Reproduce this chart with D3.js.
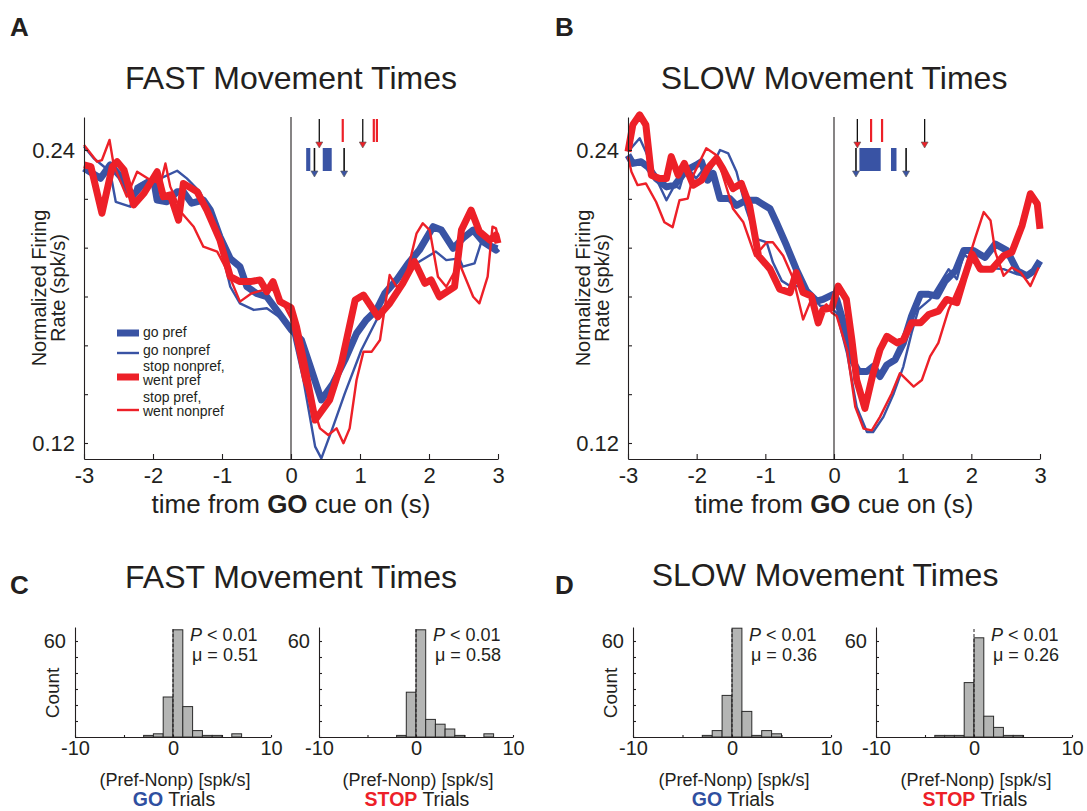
<!DOCTYPE html>
<html><head><meta charset="utf-8">
<script src="https://cdn.jsdelivr.net/npm/d3@7"></script>
<style>body{margin:0;background:#fff}svg{display:block;font-family:"Liberation Sans",Arial,Helvetica,sans-serif}</style>
</head><body><svg id="c" width="1087" height="811"></svg>
<script>
// ---------------- DATA ----------------
// time courses: [time from GO (s), normalized firing rate]
const A_goPref = [[-3.00,0.2325],[-2.76,0.2284],[-2.62,0.2339],[-2.47,0.2291],[-2.30,0.2209],[-2.18,0.2250],[-1.99,0.2277],[-1.94,0.2195],[-1.80,0.2188],[-1.65,0.2229],[-1.56,0.2229],[-1.44,0.2182],[-1.27,0.2195],[-1.17,0.2154],[-1.03,0.2045],[-0.88,0.1955],[-0.74,0.1922],[-0.64,0.1840],[-0.50,0.1813],[-0.35,0.1799],[-0.21,0.1745],[0.00,0.1665],[0.15,0.1622],[0.28,0.1513],[0.44,0.1376],[0.61,0.1444],[0.78,0.1540],[0.95,0.1649],[1.09,0.1704],[1.24,0.1745],[1.36,0.1813],[1.53,0.1868],[1.70,0.1936],[1.86,0.1990],[2.06,0.2086],[2.18,0.2072],[2.35,0.1997],[2.49,0.2038],[2.64,0.2072],[2.78,0.2025],[2.97,0.1990],[3.00,0.1997]];
const A_goNonpref = [[-3.00,0.2414],[-2.86,0.2366],[-2.62,0.2311],[-2.54,0.2188],[-2.33,0.2168],[-2.25,0.2250],[-2.09,0.2277],[-1.89,0.2284],[-1.65,0.2315],[-1.51,0.2284],[-1.32,0.2229],[-1.12,0.2100],[-1.03,0.2018],[-0.88,0.1840],[-0.74,0.1772],[-0.54,0.1745],[-0.35,0.1752],[-0.21,0.1724],[0.00,0.1680],[0.18,0.1458],[0.35,0.1185],[0.44,0.1137],[0.61,0.1267],[0.78,0.1403],[1.02,0.1581],[1.24,0.1704],[1.43,0.1772],[1.62,0.1854],[1.82,0.1936],[2.10,0.1984],[2.25,0.1949],[2.44,0.1956],[2.49,0.1922],[2.66,0.1936],[2.76,0.2025],[2.88,0.2018],[3.00,0.2004]];
const A_stopNonpref = [[-3.00,0.2339],[-2.90,0.2332],[-2.74,0.2141],[-2.59,0.2332],[-2.52,0.2352],[-2.42,0.2318],[-2.28,0.2175],[-2.13,0.2223],[-1.94,0.2311],[-1.85,0.2209],[-1.75,0.2216],[-1.63,0.2113],[-1.56,0.2263],[-1.36,0.2229],[-1.22,0.2154],[-1.03,0.2031],[-0.88,0.1881],[-0.74,0.1861],[-0.59,0.1861],[-0.45,0.1868],[-0.35,0.1820],[-0.26,0.1861],[-0.16,0.1779],[0.00,0.1755],[0.08,0.1676],[0.20,0.1513],[0.35,0.1294],[0.56,0.1376],[0.73,0.1526],[0.93,0.1786],[1.05,0.1806],[1.26,0.1717],[1.43,0.1772],[1.62,0.1854],[1.79,0.1943],[1.94,0.1854],[2.03,0.1868],[2.15,0.1799],[2.37,0.1840],[2.47,0.2072],[2.61,0.2154],[2.73,0.2066],[2.88,0.2031],[2.97,0.2052],[3.00,0.2018]];
const A_stopPref = [[-3.00,0.2420],[-2.81,0.2352],[-2.74,0.2359],[-2.63,0.2441],[-2.57,0.2339],[-2.50,0.2291],[-2.38,0.2209],[-2.23,0.2311],[-2.04,0.2277],[-1.89,0.2263],[-1.82,0.2345],[-1.75,0.2250],[-1.58,0.2141],[-1.41,0.2086],[-1.27,0.2004],[-1.07,0.1984],[-0.93,0.1909],[-0.74,0.1779],[-0.57,0.1813],[-0.40,0.1827],[-0.26,0.1827],[-0.14,0.1786],[0.00,0.1710],[0.18,0.1458],[0.35,0.1322],[0.42,0.1260],[0.54,0.1233],[0.66,0.1260],[0.76,0.1199],[0.85,0.1260],[0.95,0.1458],[1.05,0.1574],[1.17,0.1574],[1.29,0.1622],[1.43,0.1888],[1.53,0.1840],[1.65,0.1861],[1.82,0.2059],[1.91,0.2100],[2.01,0.2072],[2.13,0.1881],[2.25,0.1840],[2.44,0.1936],[2.64,0.1799],[2.73,0.1772],[2.85,0.1881],[2.92,0.2086],[2.97,0.2079],[3.00,0.2045]];

const B_goPref = [[-3.00,0.2379],[-2.93,0.2345],[-2.81,0.2352],[-2.71,0.2331],[-2.59,0.2283],[-2.44,0.2249],[-2.32,0.2256],[-2.15,0.2318],[-2.01,0.2338],[-1.93,0.2352],[-1.84,0.2276],[-1.76,0.2304],[-1.66,0.2201],[-1.52,0.2201],[-1.42,0.2173],[-1.28,0.2194],[-1.13,0.2194],[-0.93,0.2159],[-0.84,0.2104],[-0.69,0.2008],[-0.55,0.1912],[-0.40,0.1823],[-0.25,0.1781],[-0.16,0.1788],[-0.01,0.1809],[0.04,0.1788],[0.14,0.1692],[0.26,0.1541],[0.36,0.1493],[0.48,0.1493],[0.57,0.1513],[0.67,0.1472],[0.77,0.1520],[0.89,0.1541],[1.01,0.1610],[1.13,0.1720],[1.26,0.1809],[1.38,0.1809],[1.50,0.1802],[1.62,0.1864],[1.77,0.1905],[1.89,0.1988],[2.03,0.1988],[2.20,0.1960],[2.35,0.2015],[2.52,0.1988],[2.67,0.1905],[2.81,0.1885],[2.91,0.1905],[3.00,0.1946]];
const B_goNonpref = [[-3.00,0.2393],[-2.83,0.2448],[-2.74,0.2393],[-2.59,0.2283],[-2.44,0.2194],[-2.32,0.2256],[-2.25,0.2242],[-2.15,0.2338],[-2.01,0.2283],[-1.91,0.2318],[-1.81,0.2311],[-1.66,0.2400],[-1.54,0.2386],[-1.42,0.2311],[-1.28,0.2159],[-1.13,0.2036],[-0.98,0.2022],[-0.89,0.1940],[-0.76,0.1864],[-0.64,0.1843],[-0.50,0.1843],[-0.35,0.1816],[-0.20,0.1761],[-0.08,0.1761],[0.04,0.1733],[0.19,0.1568],[0.33,0.1348],[0.48,0.1245],[0.57,0.1245],[0.72,0.1307],[0.87,0.1403],[1.01,0.1513],[1.13,0.1651],[1.23,0.1747],[1.40,0.1788],[1.55,0.1857],[1.67,0.1912],[1.79,0.1871],[1.89,0.1974],[2.03,0.1940],[2.18,0.1919],[2.47,0.1912],[2.67,0.1891],[2.86,0.1885],[3.00,0.1926]];
const B_stopNonpref = [[-3.00,0.2393],[-2.93,0.2503],[-2.83,0.2544],[-2.74,0.2503],[-2.66,0.2297],[-2.54,0.2283],[-2.44,0.2283],[-2.37,0.2373],[-2.27,0.2297],[-2.18,0.2345],[-2.05,0.2256],[-1.93,0.2276],[-1.84,0.2324],[-1.71,0.2366],[-1.62,0.2324],[-1.47,0.2242],[-1.35,0.2263],[-1.23,0.2173],[-1.10,0.1967],[-0.93,0.1912],[-0.79,0.1830],[-0.64,0.1816],[-0.55,0.1898],[-0.45,0.1816],[-0.33,0.1802],[-0.23,0.1692],[-0.16,0.1747],[-0.03,0.1754],[0.06,0.1843],[0.18,0.1788],[0.26,0.1623],[0.33,0.1458],[0.45,0.1342],[0.57,0.1486],[0.67,0.1582],[0.77,0.1637],[0.92,0.1610],[1.01,0.1623],[1.13,0.1692],[1.26,0.1692],[1.38,0.1726],[1.52,0.1740],[1.64,0.1788],[1.79,0.1775],[1.89,0.1871],[2.01,0.1974],[2.13,0.1912],[2.30,0.1912],[2.47,0.1967],[2.59,0.1981],[2.74,0.2091],[2.86,0.2221],[2.96,0.2180],[3.00,0.2077]];
const B_stopPref = [[-3.00,0.2373],[-2.95,0.2311],[-2.86,0.2256],[-2.74,0.2263],[-2.59,0.2187],[-2.47,0.2104],[-2.35,0.2084],[-2.25,0.2194],[-2.13,0.2201],[-2.05,0.2297],[-1.98,0.2338],[-1.86,0.2407],[-1.71,0.2379],[-1.59,0.2269],[-1.47,0.2159],[-1.32,0.2104],[-1.15,0.1967],[-0.98,0.2022],[-0.89,0.2022],[-0.74,0.1967],[-0.59,0.1871],[-0.45,0.1706],[-0.35,0.1775],[-0.23,0.1733],[-0.11,0.1768],[-0.03,0.1733],[0.04,0.1720],[0.19,0.1582],[0.31,0.1348],[0.43,0.1259],[0.55,0.1252],[0.67,0.1307],[0.84,0.1403],[0.96,0.1486],[1.16,0.1431],[1.28,0.1458],[1.40,0.1555],[1.52,0.1610],[1.67,0.1747],[1.89,0.1891],[2.06,0.2043],[2.18,0.2146],[2.28,0.2111],[2.35,0.1981],[2.47,0.1885],[2.59,0.1919],[2.72,0.1898],[2.86,0.1843],[2.98,0.1919]];

// event markers above the traces (s from GO)
const A_stopArrows = [0.41, 1.04];
const A_stopBars = [0.75, 1.20, 1.245];
const A_goArrows = [0.34, 0.77];
const A_goBoxes = [[0.22, 0.28], [0.46, 0.59]];
const B_stopArrows = [0.34, 1.32];
const B_stopBars = [0.54, 0.70];
const B_goArrows = [0.32, 1.05];
const B_goBoxes = [[0.37, 0.68], [0.83, 0.91]];

// axes ticks
const tcXTicks = [-3, -2, -1, 0, 1, 2, 3];
const tcYTicks = [0.12, 0.14, 0.16, 0.18, 0.20, 0.22, 0.24];
const tcYLabeled = [0.12, 0.24];
const legendLabels = [["go pref"], ["go nonpref"], ["stop nonpref,", "went pref"], ["stop pref,", "went nonpref"]];

// histograms: first bin start (bins of width 1 spk/s) and counts
const C_go_start = -3,   C_go_counts   = [1, 2, 25, 67, 19, 4, 1, 1, 0, 2];
const C_stop_start = -2, C_stop_counts = [1, 28, 67, 11, 8, 5, 1, 0, 0, 2];
const D_go_start = -3,   D_go_counts   = [1, 4, 26, 68, 16, 1, 4, 2];
const D_stop_start = -4, D_stop_counts = [1, 1, 1, 34, 62, 13, 6, 1, 1];
const histMu = ["0.51", "0.58", "0.36", "0.26"];
const histP = "0.01";
const histXTicks = [-10, -5, 0, 5, 10];
const histXLabeled = [-10, 0, 10];
const histYTicks = [0, 10, 20, 30, 40, 50, 60];

// ---------------- DRAWING ----------------
const BLUE = "#3953a4", RED = "#ed2028", INK = "#231f20";
const svg = d3.select("#c");

function styleAxis(g, size) {
  g.select(".domain").attr("stroke", INK).attr("stroke-width", 1.1);
  g.selectAll(".tick line").attr("stroke", INK).attr("stroke-width", 1.1);
  g.selectAll(".tick text").attr("font-size", size).attr("fill", INK).attr("font-family", null);
}

function tcPanel(o) {
  const x = d3.scaleLinear().domain([-3, 3]).range([o.x0, o.x1]);
  const y = d3.scaleLinear().domain([0.12, 0.24]).range([443, 150]);
  const yAx = d3.scaleLinear().domain([y.invert(459), y.invert(117)]).range([459, 117]);
  const g = svg.append("g");
  const line = d3.line().x(d => x(d[0])).y(d => y(d[1]));
  const series = [
    {d: o.goPref, c: BLUE, w: 7},
    {d: o.goNonpref, c: BLUE, w: 2.4},
    {d: o.stopNonpref, c: RED, w: 7},
    {d: o.stopPref, c: RED, w: 2.4}
  ];
  series.forEach(s => g.append("path").attr("d", line(s.d)).attr("fill", "none")
    .attr("stroke", s.c).attr("stroke-width", s.w).attr("stroke-linejoin", "round"));

  // zero line
  g.append("line").attr("x1", x(0)).attr("x2", x(0)).attr("y1", 117).attr("y2", 459)
    .attr("stroke", INK).attr("stroke-width", 1.1);

  // axes
  const ya = g.append("g").attr("transform", `translate(${o.x0},0)`)
    .call(d3.axisLeft(yAx).tickValues(tcYTicks).tickSizeInner(-4).tickSizeOuter(0).tickPadding(9)
      .tickFormat(d => tcYLabeled.some(v => Math.abs(v - d) < 1e-9) ? d3.format(".2f")(d) : ""));
  styleAxis(ya, 22);
  const xa = g.append("g").attr("transform", `translate(0,459)`)
    .call(d3.axisBottom(x).tickValues(tcXTicks).tickSizeInner(-5).tickSizeOuter(0).tickPadding(8)
      .tickFormat(d => String(d)));
  styleAxis(xa, 22);

  // markers
  const stemC = "#111";
  o.stopBars.forEach(t => g.append("line").attr("x1", x(t)).attr("x2", x(t)).attr("y1", 119).attr("y2", 142)
    .attr("stroke", RED).attr("stroke-width", 2.2));
  o.stopArrows.forEach(t => {
    g.append("line").attr("x1", x(t)).attr("x2", x(t)).attr("y1", 119).attr("y2", 143).attr("stroke", stemC).attr("stroke-width", 1.3);
    g.append("path").attr("d", `M${x(t)-3.5},142L${x(t)+3.5},142L${x(t)},148Z`).attr("fill", RED).attr("stroke", "#555").attr("stroke-width", 0.6);
  });
  o.goBoxes.forEach(b => g.append("rect").attr("x", x(b[0])).attr("y", 148).attr("width", x(b[1]) - x(b[0])).attr("height", 23)
    .attr("fill", BLUE));
  o.goArrows.forEach(t => {
    g.append("line").attr("x1", x(t)).attr("x2", x(t)).attr("y1", 148).attr("y2", 172).attr("stroke", stemC).attr("stroke-width", 1.6);
    g.append("path").attr("d", `M${x(t)-3.5},171L${x(t)+3.5},171L${x(t)},177Z`).attr("fill", BLUE).attr("stroke", "#555").attr("stroke-width", 0.6);
  });

  // labels
  g.append("text").attr("x", x(0)).attr("y", 89).attr("text-anchor", "middle").attr("font-size", 32).attr("fill", INK).text(o.title);
  const xt = g.append("text").attr("x", x(0)).attr("y", 513).attr("text-anchor", "middle").attr("font-size", 26).attr("fill", INK);
  xt.append("tspan").text("time from ");
  xt.append("tspan").attr("font-weight", "bold").text("GO");
  xt.append("tspan").text(" cue on (s)");
  g.append("text").attr("transform", `translate(${o.x0 - 38},${288}) rotate(-90)`).attr("text-anchor", "middle")
    .attr("font-size", 20).attr("fill", INK).text("Normalized Firing");
  g.append("text").attr("transform", `translate(${o.x0 - 19},${288}) rotate(-90)`).attr("text-anchor", "middle")
    .attr("font-size", 20).attr("fill", INK).text("Rate (spk/s)");

  g.append("text").attr("x", o.letterX).attr("y", 36).attr("font-size", 26).attr("font-weight", "bold").attr("fill", INK).text(o.letter);

  if (o.legend) {
    const ys = [333, 353, 377, 410];
    const tb = [[337], [355], [371, 385], [402, 416]];
    series.forEach((s, i) => {
      g.append("line").attr("x1", 117).attr("x2", 139).attr("y1", ys[i]).attr("y2", ys[i]).attr("stroke", s.c).attr("stroke-width", s.w);
      legendLabels[i].forEach((l, j) => g.append("text").attr("x", 143).attr("y", tb[i][j]).attr("font-size", 14).attr("fill", INK).text(l));
    });
  }
}

tcPanel({x0: 84, x1: 498, goPref: A_goPref, goNonpref: A_goNonpref, stopNonpref: A_stopNonpref, stopPref: A_stopPref,
  stopArrows: A_stopArrows, stopBars: A_stopBars, goArrows: A_goArrows, goBoxes: A_goBoxes,
  title: "FAST Movement Times", letter: "A", letterX: 10, legend: true});
tcPanel({x0: 628, x1: 1040, goPref: B_goPref, goNonpref: B_goNonpref, stopNonpref: B_stopNonpref, stopPref: B_stopPref,
  stopArrows: B_stopArrows, stopBars: B_stopBars, goArrows: B_goArrows, goBoxes: B_goBoxes,
  title: "SLOW Movement Times", letter: "B", letterX: 555, legend: false});

function histPanel(o) {
  const x = d3.scaleLinear().domain([-10, 10]).range([o.x0, o.x1]);
  const y = d3.scaleLinear().domain([0, 60]).range([737, 641]);
  const yAx = d3.scaleLinear().domain([0, y.invert(627)]).range([737, 627]);
  const g = svg.append("g");
  const bins = o.counts.map((c, i) => ({b: o.start + i, c}));
  g.selectAll("rect").data(bins.filter(d => d.c > 0)).join("rect")
    .attr("x", d => x(d.b)).attr("y", d => y(d.c)).attr("width", d => x(d.b + 1) - x(d.b)).attr("height", d => y(0) - y(d.c))
    .attr("fill", "#b4b5b4").attr("stroke", "#2a2a2a").attr("stroke-width", 1);
  g.append("line").attr("x1", x(0)).attr("x2", x(0)).attr("y1", 737).attr("y2", 627)
    .attr("stroke", INK).attr("stroke-width", 1).attr("stroke-dasharray", "3,2");
  const ya = g.append("g").attr("transform", `translate(${o.x0},0)`)
    .call(d3.axisLeft(yAx).tickValues(histYTicks).tickSizeInner(-3).tickSizeOuter(0).tickPadding(9)
      .tickFormat(d => d === 60 ? "60" : ""));
  styleAxis(ya, 20);
  const xa = g.append("g").attr("transform", `translate(0,737)`)
    .call(d3.axisBottom(x).tickValues(histXTicks).tickSizeInner(-2).tickSizeOuter(0).tickPadding(4)
      .tickFormat(d => histXLabeled.includes(d) ? String(d) : ""));
  styleAxis(xa, 20);
  const st = g.append("text").attr("x", x(0) + 17).attr("y", 641).attr("font-size", 18).attr("fill", INK);
  st.append("tspan").attr("font-style", "italic").text("P");
  st.append("tspan").text(" < " + histP);
  g.append("text").attr("x", x(0) + 19).attr("y", 661).attr("font-size", 18).attr("fill", INK).text("\u03bc = " + o.mu);
  g.append("text").attr("x", x(0) + 2).attr("y", 786).attr("text-anchor", "middle").attr("font-size", 18).attr("fill", INK).text("(Pref-Nonp) [spk/s]");
  const tt = g.append("text").attr("x", x(0) + 1).attr("y", 806).attr("text-anchor", "middle").attr("font-size", 19.5).attr("fill", INK);
  tt.append("tspan").attr("font-weight", "bold").attr("fill", o.kind === "GO" ? "#2f4fa0" : RED).text(o.kind);
  tt.append("tspan").text(" Trials");
  if (o.count) {
    g.append("text").attr("transform", `translate(${o.x0 - 16},693) rotate(-90)`).attr("text-anchor", "middle")
      .attr("font-size", 19).attr("fill", INK).text("Count");
  }
}

histPanel({x0: 75, x1: 271, start: C_go_start, counts: C_go_counts, mu: histMu[0], kind: "GO", count: true});
histPanel({x0: 319, x1: 513, start: C_stop_start, counts: C_stop_counts, mu: histMu[1], kind: "STOP", count: false});
histPanel({x0: 633, x1: 831, start: D_go_start, counts: D_go_counts, mu: histMu[2], kind: "GO", count: true});
histPanel({x0: 876, x1: 1072, start: D_stop_start, counts: D_stop_counts, mu: histMu[3], kind: "STOP", count: false});

svg.append("text").attr("x", 291).attr("y", 588).attr("text-anchor", "middle").attr("font-size", 32).attr("fill", INK).text("FAST Movement Times");
svg.append("text").attr("x", 825).attr("y", 586).attr("text-anchor", "middle").attr("font-size", 32).attr("fill", INK).text("SLOW Movement Times");
svg.append("text").attr("x", 10).attr("y", 594).attr("font-size", 26).attr("font-weight", "bold").attr("fill", INK).text("C");
svg.append("text").attr("x", 555).attr("y", 594).attr("font-size", 26).attr("font-weight", "bold").attr("fill", INK).text("D");
</script></body></html>
